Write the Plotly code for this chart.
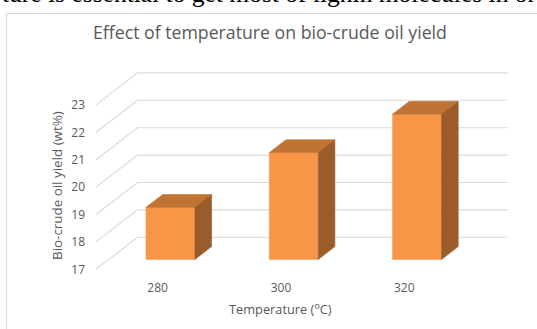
import plotly.graph_objects as go

# ---- data -------------------------------------------------------------
temperatures = ["280", "300", "320"]          # reaction temperature, degC
oil_yield = [18.9, 20.9, 22.3]                # bio-crude oil yield, wt%
y_ticks = [17, 18, 19, 20, 21, 22, 23]

# ---- canvas / oblique 3-D projection settings ----------------------------
W, H = 537, 329
M_L, M_R, M_T, M_B = 96, 29, 60, 59
PLOT_W = W - M_L - M_R
PLOT_H = H - M_T - M_B
CAT_PX = 123.3           # pixels per category on the front plane
UNIT_PX = 27.4           # pixels per wt% unit
BASE = y_ticks[0]        # floor value
DEPTH_X = 41.5 / CAT_PX  # x shift (category units) for full depth
DEPTH_Y = 32.0 / UNIT_PX # y shift (value units) for full depth
BAR_HALF = 0.1985        # half bar width, category units
BAR_D0, BAR_D1 = 0.31, 0.71  # bar depth extent (fraction of wall depth)

GRID = "#D9D9D9"
TEXT = "#595959"
FRONT = "#F79646"
TOP = "#C07434"
SIDE = "#9B5C2B"
SANS = "Open Sans"


def proj(c, v, d):
    """Oblique projection: category c, value v, depth fraction d."""
    return c + d * DEPTH_X, v + d * DEPTH_Y


def px_x(px):
    return (px - M_L) / PLOT_W


def px_y(py):
    return (M_T + PLOT_H - py) / PLOT_H


x_range = [-0.5, -0.5 + PLOT_W / CAT_PX]
y_lo = BASE - 0.7 / UNIT_PX
y_range = [y_lo, y_lo + PLOT_H / UNIT_PX]

fig = go.Figure()

# side wall (diagonals) and back wall gridlines
n_cat = len(temperatures)
wx, wy = [], []
for v in y_ticks:
    x0, y0 = proj(-0.5, v, 0)
    x1, y1 = proj(-0.5, v, 1)
    x2, y2 = proj(n_cat - 0.5, v, 1)
    wx += [x0, x1, x2, None]
    wy += [y0, y1, y2, None]
fig.add_trace(go.Scatter(x=wx, y=wy, mode="lines",
                         line=dict(color=GRID, width=1.1),
                         hoverinfo="skip", showlegend=False))


def face(points, color):
    xs = [p[0] for p in points] + [points[0][0]]
    ys = [p[1] for p in points] + [points[0][1]]
    fig.add_trace(go.Scatter(x=xs, y=ys, mode="lines", fill="toself",
                             fillcolor=color,
                             line=dict(color=color, width=0.6),
                             hoverinfo="skip", showlegend=False))


# 3-D bars
for i, val in enumerate(oil_yield):
    l, r = i - BAR_HALF, i + BAR_HALF
    front = [proj(l, BASE, BAR_D0), proj(r, BASE, BAR_D0),
             proj(r, val, BAR_D0), proj(l, val, BAR_D0)]
    top = [proj(l, val, BAR_D0), proj(r, val, BAR_D0),
           proj(r, val, BAR_D1), proj(l, val, BAR_D1)]
    side = [proj(r, BASE, BAR_D0), proj(r, BASE, BAR_D1),
            proj(r, val, BAR_D1), proj(r, val, BAR_D0)]
    face(front, FRONT)
    face(top, TOP)
    face(side, SIDE)

fig.update_xaxes(range=x_range, showgrid=False, zeroline=False,
                 showline=False, ticks="",
                 tickvals=list(range(n_cat)), ticktext=temperatures,
                 tickfont=dict(family=SANS, size=12, color=TEXT),
                 ticklabelstandoff=9)
fig.update_yaxes(range=y_range, showgrid=False, zeroline=False,
                 showline=False, ticks="",
                 tickvals=y_ticks, ticktext=[str(t) for t in y_ticks],
                 tickfont=dict(family=SANS, size=12, color=TEXT),
                 ticklabelstandoff=10)

annotations = [
    # running text of the surrounding page, cut by the top edge
    dict(text="ture is essential to get most of lignin molecules in or",
         xref="paper", yref="paper", x=px_x(0), y=px_y(10.5),
         xanchor="left", yanchor="bottom", showarrow=False,
         font=dict(family="Liberation Serif", size=25.5, color="#000000")),
    dict(text="Effect of temperature on bio-crude oil yield",
         xref="paper", yref="paper", x=px_x(270), y=px_y(32),
         xanchor="center", yanchor="middle", showarrow=False,
         font=dict(family=SANS, size=17.7, color=TEXT)),
    dict(text="Bio-crude oil yield (wt%)",
         xref="paper", yref="paper", x=px_x(57), y=px_y(186),
         xanchor="center", yanchor="middle", showarrow=False, textangle=-90,
         font=dict(family=SANS, size=13.4, color=TEXT)),
    dict(text="Temperature (<sup>o</sup>C)",
         xref="x", yref="paper", x=1, y=px_y(308),
         xanchor="center", yanchor="middle", showarrow=False,
         font=dict(family=SANS, size=12.8, color=TEXT)),
]

shapes = [
    # chart frame (left and top edges visible)
    dict(type="line", xref="paper", yref="paper",
         x0=px_x(6.5), y0=px_y(13.5), x1=px_x(W + 5), y1=px_y(13.5),
         line=dict(color=GRID, width=1.2)),
    dict(type="line", xref="paper", yref="paper",
         x0=px_x(6.5), y0=px_y(13.5), x1=px_x(6.5), y1=px_y(H + 5),
         line=dict(color=GRID, width=1.2)),
]

fig.update_layout(width=W, height=H,
                  margin=dict(l=M_L, r=M_R, t=M_T, b=M_B),
                  paper_bgcolor="white", plot_bgcolor="white",
                  showlegend=False, annotations=annotations, shapes=shapes)

fig.write_html("out.html")
